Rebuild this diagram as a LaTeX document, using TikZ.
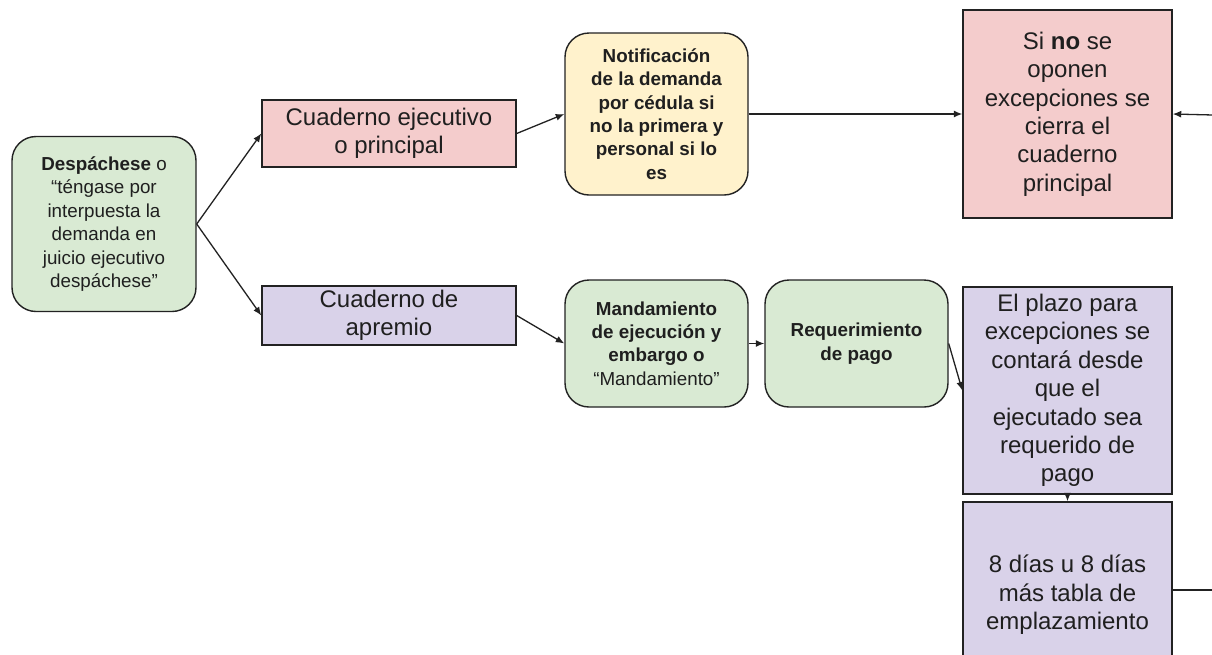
\documentclass[tikz,border=0pt]{standalone}
\usepackage{fontspec}
\setmainfont{Liberation Sans}
\usetikzlibrary{arrows.meta}
\definecolor{gfill}{HTML}{D9EAD3}
\definecolor{pfill}{HTML}{F4CCCC}
\definecolor{yfill}{HTML}{FFF2CC}
\definecolor{vfill}{HTML}{D9D2E9}
\definecolor{bord}{HTML}{222222}
\definecolor{txt}{HTML}{1F1F1F}
\begin{document}
\begin{tikzpicture}[x=1pt,y=-1pt,
  box/.style={draw=bord,line width=1.4pt,inner sep=0pt,align=center,text=txt},
  rbox/.style={box,rounded corners=24pt},
  big/.style={font=\fontsize{24}{28.4}\selectfont},
  small/.style={font=\fontsize{18.8}{23.4}\selectfont},
  conn/.style={draw=bord,line width=1.3pt,-{Latex[length=8.5pt,width=7pt]}},
  plain/.style={draw=bord,line width=1.3pt}]
\clip (0,0) rectangle (1212,654);
\fill[white] (0,0) rectangle (1212,654);

\node[rbox,small,fill=gfill,minimum width=184pt,minimum height=175pt] (desp) at (104,224)
  {\textbf{Despáchese} o\\“téngase por\\interpuesta la\\demanda en\\juicio ejecutivo\\despáchese”};
\node[box,big,fill=pfill,minimum width=254pt,minimum height=67pt] (cej) at (389,133.5)
  {Cuaderno ejecutivo\\o principal};
\node[box,big,fill=vfill,minimum width=254pt,minimum height=59pt] (cap) at (389,315.5)
  {Cuaderno de\\apremio};
\node[rbox,small,fill=yfill,minimum width=183pt,minimum height=162pt] (notif) at (656.5,114)
  {\textbf{Notificación}\\\textbf{de la demanda}\\\textbf{por cédula si}\\\textbf{no la primera y}\\\textbf{personal si lo}\\\textbf{es}};
\node[box,big,fill=pfill,minimum width=209pt,minimum height=208pt] (sino) at (1067.5,114)
  {Si \textbf{no} se\\oponen\\excepciones se\\cierra el\\cuaderno\\principal};
\node[rbox,small,fill=gfill,minimum width=183pt,minimum height=127pt] (mand) at (656.5,343.5)
  {\textbf{Mandamiento}\\\textbf{de ejecución y}\\\textbf{embargo o}\\“Mandamiento”};
\node[rbox,small,fill=gfill,minimum width=183pt,minimum height=127pt] (req) at (856.5,343.5)
  {\textbf{Requerimiento}\\\textbf{de pago}};
\node[box,big,fill=vfill,minimum width=209pt,minimum height=207pt] (plazo) at (1067.5,390.5)
  {El plazo para\\excepciones se\\contará desde\\que el\\ejecutado sea\\requerido de\\pago};
\node[box,big,fill=vfill,minimum width=209pt,minimum height=186pt] (ocho) at (1067.5,595)
  {8 días u 8 días\\más tabla de\\emplazamiento};

\coordinate (rin) at (1213,115);
\coordinate (rout) at (1213,590);

\draw[conn] (desp.east) -- (cej.west);
\draw[conn] (desp.east) -- (cap.west);
\draw[conn] (cej.east) -- (notif.west);
\draw[conn] (cap.east) -- (mand.west);
\draw[conn] (notif.east) -- (sino.west);
\draw[conn] (rin) -- (sino.east);
\draw[conn] (mand.east) -- (req.west);
\draw[conn] (req.east) -- (plazo.west);
\draw[conn] (plazo.south) -- (ocho.north);
\draw[plain] (ocho.east |- rout) -- (rout);
\end{tikzpicture}
\end{document}
